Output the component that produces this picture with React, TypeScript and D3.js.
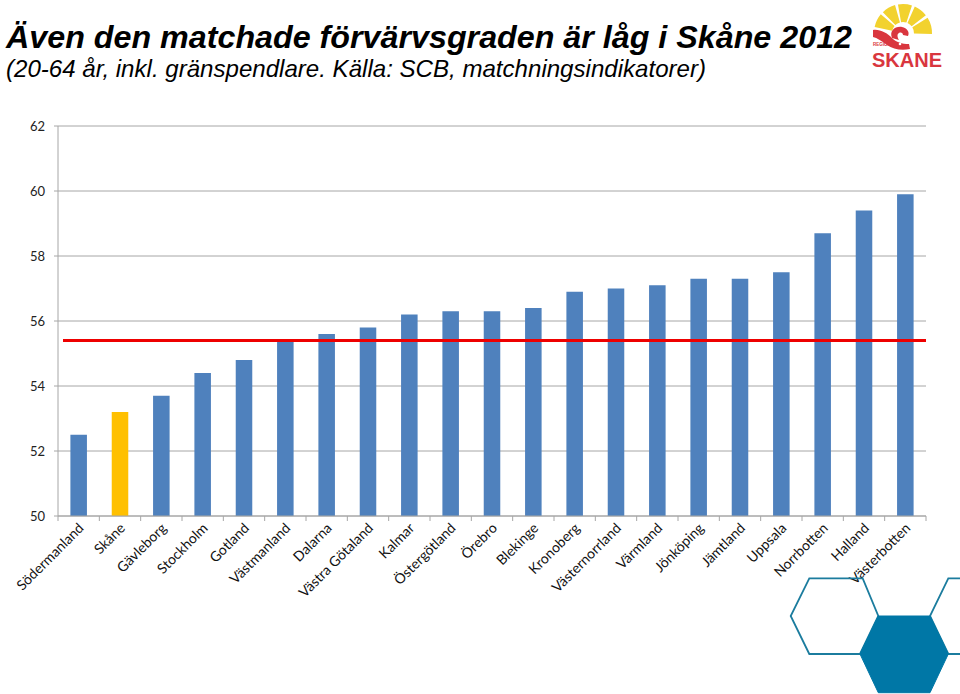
import React from "react";
import * as d3 from "d3";

const categories = [
  "Södermanland", "Skåne", "Gävleborg", "Stockholm", "Gotland", "Västmanland",
  "Dalarna", "Västra Götaland", "Kalmar", "Östergötland", "Örebro", "Blekinge",
  "Kronoberg", "Västernorrland", "Värmland", "Jönköping", "Jämtland", "Uppsala",
  "Norrbotten", "Halland", "Västerbotten",
];
const values = [
  52.5, 53.2, 53.7, 54.4, 54.8, 55.4, 55.6, 55.8, 56.2, 56.3, 56.3, 56.4,
  56.9, 57.0, 57.1, 57.3, 57.3, 57.5, 58.7, 59.4, 59.9,
];
const highlighted = ["Skåne"];
const rikets = 55.4;
const yTicks = [50, 52, 54, 56, 58, 60, 62];
const title = "Även den matchade förvärvsgraden är låg i Skåne 2012";
const subtitle = "(20-64 år, inkl. gränspendlare. Källa: SCB, matchningsindikatorer)";

const W = 960;
const H = 694;
const plot = { left: 58, right: 926, top: 126, bottom: 516 };

export default function App() {
  const x = d3
    .scaleBand<string>()
    .domain(categories)
    .range([plot.left, plot.right])
    .paddingInner(0.6)
    .paddingOuter(0.3);
  const band = d3.scaleBand<string>().domain(categories).range([plot.left, plot.right]);
  const y = d3.scaleLinear().domain([50, 62]).range([plot.bottom, plot.top]);
  const boundaries = d3.range(categories.length + 1).map((i) => plot.left + i * band.step());

  const hexA: [number, number][] = [
    [809.3, 578.3], [862.7, 578.3], [878.3, 616], [860, 654], [809.3, 654], [790.7, 616],
  ];
  const hexB: [number, number][] = [
    [878.3, 616], [930, 616], [948.3, 654], [930, 692.7], [878.3, 692.7], [860, 654],
  ];
  const hexC: [number, number][] = [
    [948.3, 578.3], [1000, 578.3], [1018, 616], [1000, 654], [948.3, 654], [930, 616],
  ];
  const poly = (pts: [number, number][]) => "M" + pts.map((p) => p.join(",")).join("L") + "Z";

  const cx = 903;
  const cy = 33;
  const arc = d3.arc();
  const segAngles = [
    [-78, -50],
    [-44, -16],
    [-10, 18],
    [24, 52],
    [58, 92],
  ];

  return (
    <svg width={W} height={H} style={{ display: "block", position: "absolute", left: 0, top: 0 }}>
      <rect x={0} y={0} width={W} height={H} fill="#ffffff" />
      <text
        x={6}
        y={48}
        fontFamily="'Liberation Sans', Arial, sans-serif"
        fontWeight="bold"
        fontStyle="italic"
        fontSize={32}
        fill="#000"
        textLength={846}
        lengthAdjust="spacingAndGlyphs"
      >
        {title}
      </text>
      <text
        x={6}
        y={77}
        fontFamily="'Liberation Sans', Arial, sans-serif"
        fontStyle="italic"
        fontSize={24}
        fill="#000"
        textLength={700}
        lengthAdjust="spacingAndGlyphs"
      >
        {subtitle}
      </text>

      {/* gridlines */}
      {yTicks.map((t) => (
        <g key={t}>
          <line x1={plot.left - 4} x2={plot.right} y1={y(t)} y2={y(t)} stroke="#a6a6a6" strokeWidth={1} />
          <text
            x={45}
            y={y(t)}
            dy="0.35em"
            textAnchor="end"
            fontFamily="Lato, 'Open Sans', sans-serif"
            fontSize={13}
            fill="#222"
          >
            {t}
          </text>
        </g>
      ))}
      <line x1={plot.left} x2={plot.left} y1={plot.top} y2={plot.bottom} stroke="#a6a6a6" strokeWidth={1} />

      {/* bars */}
      {categories.map((c, i) => (
        <rect
          key={c}
          x={x(c)}
          y={y(values[i])}
          width={x.bandwidth()}
          height={y(50) - y(values[i])}
          fill={highlighted.includes(c) ? "#ffc000" : "#4f81bd"}
        />
      ))}

      {/* x axis */}
      <line x1={plot.left} x2={plot.right} y1={plot.bottom} y2={plot.bottom} stroke="#a6a6a6" strokeWidth={1} />
      {boundaries.map((b, i) => (
        <line key={i} x1={b} x2={b} y1={plot.bottom} y2={plot.bottom + 5} stroke="#a6a6a6" strokeWidth={1} />
      ))}
      {categories.map((c) => {
        const cxl = (band(c) as number) + band.bandwidth() / 2 + 6;
        const cyl = plot.bottom + 13;
        return (
          <text
            key={c}
            transform={`translate(${cxl},${cyl}) rotate(-45)`}
            textAnchor="end"
            fontFamily="Lato, 'Open Sans', sans-serif"
            fontSize={14}
            fill="#111"
          >
            {c}
          </text>
        );
      })}

      {/* average line */}
      <line x1={plot.left + 5} x2={plot.right} y1={y(rikets)} y2={y(rikets)} stroke="#ee0000" strokeWidth={3} />

      {/* hexagons */}
      <path d={poly(hexA)} fill="none" stroke="#1b7c9e" strokeWidth={1.8} />
      <path d={poly(hexC)} fill="none" stroke="#1b7c9e" strokeWidth={1.8} />
      <path d={poly(hexB)} fill="#0077a6" stroke="#0077a6" strokeWidth={1} />

      {/* logo */}
      <g>
        {segAngles.map(([a0, a1], i) => (
          <path
            key={i}
            transform={`translate(${cx},${cy})`}
            d={
              arc({
                innerRadius: 11,
                outerRadius: 29,
                startAngle: (a0 * Math.PI) / 180,
                endAngle: (a1 * Math.PI) / 180,
              } as any) as string
            }
            fill="#f2d22e"
          />
        ))}
        <path
          d="M873,30 C880,29 887,33 892,38 C896,42 902,44 909,44 L910,49 C901,51 893,49 887,45 C882,41 877,38 873,37 Z"
          fill="#d9363e"
        />
        <path
          d="M892,38 C889,31 895,26 902,27 C907,28 910,32 908,36 L903,35 C903,33 901,32 899,33 C897,34 897,37 899,40 Z"
          fill="#d9363e"
        />
        <circle cx={900} cy={44} r={1.3} fill="#ffffff" />
        <text x={873} y={46} fontFamily="'Liberation Sans', Arial, sans-serif" fontWeight="bold" fontSize={4.5} fill="#d9363e">
          REGION
        </text>
        <text
          x={872}
          y={67}
          fontFamily="'Liberation Sans', Arial, sans-serif"
          fontWeight="bold"
          fontSize={20}
          fill="#d9363e"
          textLength={70}
          lengthAdjust="spacingAndGlyphs"
        >
          SKANE
        </text>
      </g>
    </svg>
  );
}
